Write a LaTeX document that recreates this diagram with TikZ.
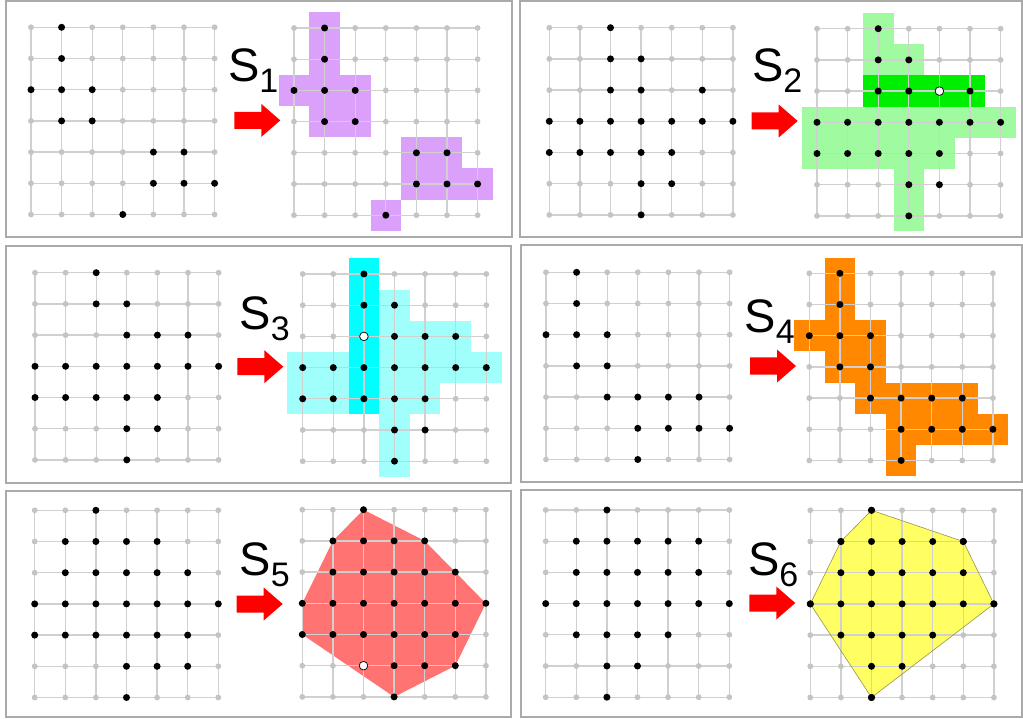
\documentclass[tikz,border=0pt]{standalone}
\usepackage{fontspec}
\setmainfont{Liberation Sans}
\definecolor{gridline}{RGB}{208,208,208}
\definecolor{griddot}{RGB}{196,196,196}
\definecolor{framegray}{RGB}{170,170,170}
\definecolor{violetfill}{RGB}{218,160,250}
\definecolor{lightgreen}{RGB}{160,250,160}
\definecolor{darkgreen}{RGB}{0,238,0}
\definecolor{lightcyan}{RGB}{160,255,250}
\definecolor{darkcyan}{RGB}{0,255,255}
\definecolor{orangefill}{RGB}{255,136,0}
\definecolor{redfill}{RGB}{255,115,115}
\definecolor{yellowfill}{RGB}{255,255,100}
\definecolor{yellowedge}{RGB}{150,150,70}
\definecolor{arrowred}{RGB}{255,0,0}
\tikzset{
  panel/.style={draw=framegray, line width=2pt},
  gline/.style={draw=gridline, line width=1.3pt},
  gdot/.style={fill=griddot},
  bdot/.style={fill=black},
  wdot/.style={fill=white, draw=black, line width=0.7pt},
  lab/.style={anchor=base west, inner sep=0pt, outer sep=0pt},
  gridscope/.style={x=30.6pt, y=-31.2pt},
}
\newcommand\mygrid[1]{%
  \foreach \i in {0,...,6} {\draw[gline] (\i,0) -- (\i,6); \draw[gline] (0,\i) -- (6,\i);}
  \foreach \i in {0,...,6} {\foreach \j in {0,...,6} {\fill[gdot] (\i,\j) circle (2.9pt);}}
  \foreach \p/\q in #1 {\fill[bdot] (\p,\q) circle (3.5pt);}
}
\newcommand\mycells[2]{%
  \foreach \p/\q in #2 {\fill[#1] (\p-0.5,\q-0.5) rectangle (\p+0.5,\q+0.5);}
}
\newcommand\redarrow[2]{%
  \fill[arrowred] (#1,#2-8.5) -- (#1+27,#2-8.5) -- (#1+27,#2-16.5) -- (#1+46,#2)
    -- (#1+27,#2+16.5) -- (#1+27,#2+8.5) -- (#1,#2+8.5) -- cycle;
}
\newcommand\slabel[4]{%
  \node[lab] (#1) at (#2,#3) {\fontsize{47}{47}\selectfont S\raisebox{-11pt}{\fontsize{34}{34}\selectfont #4}};
}
\def\DA{1/0,1/1,0/2,1/2,2/2,1/3,2/3,4/4,5/4,4/5,5/5,6/5,3/6}
\def\DB{2/0,2/1,3/1,2/2,3/2,5/2,0/3,1/3,2/3,3/3,4/3,5/3,6/3,0/4,1/4,2/4,3/4,4/4,3/5,4/5,3/6}
\def\CB{2/0,2/1,3/1,0/3,1/3,2/3,3/3,4/3,5/3,6/3,0/4,1/4,2/4,3/4,4/4,3/5,3/6}
\def\DC{2/0,2/1,3/1,3/2,4/2,5/2,0/3,1/3,2/3,3/3,4/3,5/3,6/3,0/4,1/4,2/4,3/4,4/4,3/5,4/5,3/6}
\def\CC{3/1,3/2,4/2,5/2,0/3,1/3,2/3,3/3,4/3,5/3,6/3,0/4,1/4,2/4,3/4,4/4,3/5,3/6}
\def\DD{1/0,1/1,0/2,1/2,2/2,1/3,2/3,2/4,3/4,4/4,5/4,3/5,4/5,5/5,6/5,3/6}
\def\DE{2/0,1/1,2/1,3/1,4/1,1/2,2/2,3/2,4/2,5/2,0/3,1/3,2/3,3/3,4/3,5/3,6/3,0/4,1/4,2/4,3/4,4/4,5/4,3/5,4/5,5/5,3/6}
\def\DF{2/0,1/1,2/1,3/1,4/1,5/1,1/2,2/2,3/2,4/2,5/2,0/3,1/3,2/3,3/3,4/3,5/3,6/3,1/4,2/4,3/4,4/4,2/5,3/5,2/6}
\def\HF{2/0,5/1,6/3,2/6,0/3,1/1}
\begin{document}
\begin{tikzpicture}[x=1pt, y=-1pt]
\useasboundingbox (0,0) rectangle (1023,719);
\fill[white] (0,0) rectangle (1023,719);
% panel frames
\draw[panel] (6,1) rectangle (512,237);
\draw[panel] (520,1) rectangle (1022,237);
\draw[panel] (6,246) rectangle (511,483);
\draw[panel] (521,245) rectangle (1022,482);
\draw[panel] (6,491) rectangle (511,717);
\draw[panel] (521,490) rectangle (1022,717);
% ---------- panel 1 ----------
\begin{scope}[shift={(31,27.3)}, gridscope] \mygrid{\DA} \end{scope}
\begin{scope}[shift={(294,28)}, gridscope]
  \mycells{violetfill}{\DA}
  \mygrid{\DA}
\end{scope}
\redarrow{234.3}{120.4}
\slabel{s1}{228}{82}{1}
% ---------- panel 2 ----------
\begin{scope}[shift={(549.3,27.7)}, gridscope] \mygrid{\DB} \end{scope}
\begin{scope}[shift={(817,28.7)}, gridscope]
  \mycells{lightgreen}{\CB}
  \fill[darkgreen] (1.5,1.5) rectangle (5.5,2.5);
  \mygrid{\DB}
  \filldraw[wdot] (4,2) circle (4.3pt);
\end{scope}
\redarrow{751.7}{121}
\slabel{s2}{752}{82}{2}
% ---------- panel 3 ----------
\begin{scope}[shift={(35,272.7)}, gridscope] \mygrid{\DC} \end{scope}
\begin{scope}[shift={(302.7,274)}, gridscope]
  \mycells{lightcyan}{\CC}
  \fill[darkcyan] (1.5,-0.5) rectangle (2.5,4.5);
  \mygrid{\DC}
  \filldraw[wdot] (2,2) circle (4.3pt);
\end{scope}
\redarrow{237.3}{366.7}
\slabel{s3}{239.5}{330}{3}
% ---------- panel 4 ----------
\begin{scope}[shift={(546,272.3)}, gridscope] \mygrid{\DD} \end{scope}
\begin{scope}[shift={(809.3,273.3)}, gridscope]
  \mycells{orangefill}{\DD}
  \mygrid{\DD}
\end{scope}
\redarrow{750}{366}
\slabel{s4}{744.5}{333}{4}
% ---------- panel 5 ----------
\begin{scope}[shift={(34.7,510.3)}, gridscope] \mygrid{\DE} \end{scope}
\begin{scope}[shift={(302.3,509.7)}, gridscope]
  \fill[redfill] (2,0) -- (4,1) -- (6,3) -- (5,5) -- (3,6) -- (0,4) -- (0,3) -- (1,1) -- cycle;
  \mygrid{\DE}
  \filldraw[wdot] (2,5) circle (4.3pt);
\end{scope}
\redarrow{236.7}{604}
\slabel{s5}{239.5}{575}{5}
% ---------- panel 6 ----------
\begin{scope}[shift={(545.7,510)}, gridscope] \mygrid{\DF} \end{scope}
\begin{scope}[shift={(810.3,510.3)}, gridscope]
  \fill[yellowfill] (2,0) -- (5,1) -- (6,3) -- (2,6) -- (0,3) -- (1,1) -- cycle;
  \mygrid{\DF}
  \draw[yellowedge, line width=0.6pt] (2,0) -- (5,1) -- (6,3) -- (2,6) -- (0,3) -- (1,1) -- cycle;
  \foreach \p/\q in \HF {\fill[bdot] (\p,\q) circle (3.5pt);}
\end{scope}
\redarrow{749.3}{603}
\slabel{s6}{748}{575}{6}
\end{tikzpicture}
\end{document}
